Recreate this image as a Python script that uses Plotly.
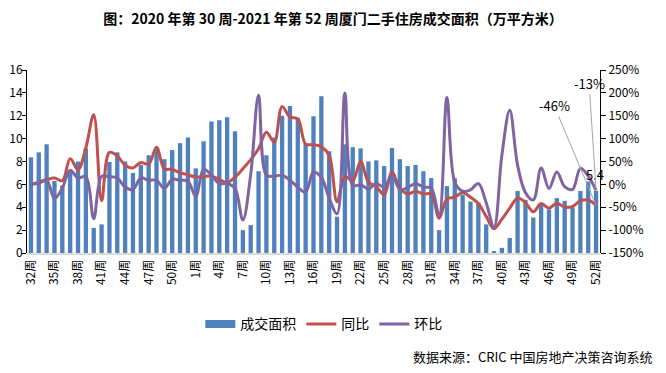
import plotly.graph_objects as go

# ---- data ----
weeks = [f"{w}周" for w in range(32, 53)] + [f"{w}周" for w in range(1, 53)]

area = [8.37, 8.8, 9.5, 6.3, 5.9, 7.2, 8.0, 9.15, 2.2, 2.5,
        7.96, 8.8, 8.0, 7.0, 7.7, 8.55, 9.1, 8.2, 9.0, 9.6,
        10.1, 7.4, 9.77, 11.5, 11.6, 11.86, 10.64, 2.0, 2.44, 7.15,
        8.55, 10.1, 12.0, 12.85, 11.8, 9.55, 11.95, 13.7, 8.9, 3.17,
        9.5, 9.25, 9.15, 8.0, 8.1, 7.6, 9.18, 8.2, 7.6, 7.7,
        7.15, 6.55, 2.0, 5.85, 6.54, 5.1, 4.5, 4.4, 2.5, 0.15,
        0.45, 1.32, 5.42, 4.65, 3.1, 4.2, 3.8, 4.8, 4.56, 4.0,
        5.42, 6.25, 5.44]

yoy = [0, 3, 10, 14, 8, 56, 32, 80, 152, -36,
       70, 62, 42, 36, 48, 44, 81, 34, 33, 25,
       21, 16, 17, 18, 11, 4, 16, 34, 54, 78,
       114, 92, 170, 147, 143, 88, 87, 82, 63, -38,
       17, 8, 50, 5, -5, -23, 27, -8, -21, -15,
       -21, -21, -74, -32, -28, -18, -28, -42, -70, -97,
       -76, -52, -30, -40, -60, -42, -52, -41, -50, -48,
       -36, -34, -46]

wow = [0, 5, 9, -31, -8, 31, 14, 17, -75, 17,
       17, 14, -6, -11, 14, 9, 9, -9, 11, 9,
       7, -26, 33, 20, 2, 2, -9, -78, 22, 195,
       20, 18, 20, 9, -6, -17, 27, 15, -30, -64,
       200, -2, -1, -10, 2, -6, 20, -11, -7, 2,
       -6, -8, -68, 190, 5, -15, -12, 2, -40, -94,
       64, 162, 42, -18, -34, 36, -9, 27, -5, -11,
       35, 18, -13]

left_ticks = [0, 2, 4, 6, 8, 10, 12, 14, 16]
right_ticks = [-150, -100, -50, 0, 50, 100, 150, 200, 250]

title = "<b>图：2020 年第 30 周-2021 年第 52 周厦门二手住房成交面积（万平方米）</b>"
source = "数据来源：CRIC 中国房地产决策咨询系统"

FONT = "Noto Sans CJK SC"
BLUE = "#4F81BD"
RED = "#C0504D"
PURPLE = "#8064A2"

x = list(range(len(weeks)))
tick_idx = x[::3]

fig = go.Figure()
fig.add_trace(go.Bar(x=x, y=area, name="成交面积", marker_color=BLUE,
                     marker_line_width=0, yaxis="y", showlegend=False))
# legend proxy (wide rectangle like the reference legend key)
fig.add_trace(go.Scatter(x=[None], y=[None], name="成交面积", mode="lines",
                         line=dict(color=BLUE, width=8), yaxis="y"))
fig.add_trace(go.Scatter(x=x, y=yoy, name="同比", mode="lines",
                         line=dict(color=RED, width=3, shape="spline", smoothing=1.0),
                         yaxis="y2"))
fig.add_trace(go.Scatter(x=x, y=wow, name="环比", mode="lines",
                         line=dict(color=PURPLE, width=3, shape="spline", smoothing=1.0),
                         yaxis="y2"))

last = x[-1]
fig.add_annotation(x=last, y=area[-1], xref="x", yref="y", text=f"{area[-1]:.1f}",
                   showarrow=False, yanchor="bottom", yshift=5, xshift=-1,
                   font=dict(size=13, color="black", family=FONT))
fig.add_annotation(x=last, y=yoy[-1], xref="x", yref="y2", text=f"{yoy[-1]}%",
                   showarrow=True, arrowhead=0, arrowwidth=1, arrowcolor="#A6A6A6",
                   ax=-42, ay=-100, standoff=0,
                   font=dict(size=13, color="black", family=FONT))
fig.add_annotation(x=last, y=wow[-1], xref="x", yref="y2", text=f"{wow[-1]}%",
                   showarrow=True, arrowhead=0, arrowwidth=1, arrowcolor="#A6A6A6",
                   ax=-7, ay=-107, standoff=0,
                   font=dict(size=13, color="black", family=FONT))

fig.add_annotation(x=1.096, y=-0.565, xref="paper", yref="paper", text=source,
                   showarrow=False, xanchor="right", yanchor="middle",
                   font=dict(size=13, color="black", family=FONT))

# The page body has an 8px default margin, so the figure is drawn 8px in and
# sized 658x365 to fill the 666x373 window.
fig.update_layout(
    width=658, height=365,
    margin=dict(l=19, r=66, t=62, b=120, autoexpand=False),
    paper_bgcolor="white", plot_bgcolor="white",
    font=dict(family=FONT, size=12, color="black"),
    title=dict(text=title, x=325 / 658, xref="container", xanchor="center",
               y=1 - 11 / 365, yanchor="middle",
               font=dict(size=14, color="black", family=FONT)),
    bargap=0.45,
    showlegend=True,
    legend=dict(orientation="h", x=0.518, xanchor="center", y=-0.39, yanchor="middle",
                font=dict(size=14, family=FONT, color="black"),
                itemwidth=30, traceorder="normal"),
    xaxis=dict(range=[-0.5, len(x) - 0.5], tickmode="array", tickvals=tick_idx,
               ticktext=[weeks[i] for i in tick_idx], tickangle=-90,
               showline=True, linecolor="#D9D9D9", linewidth=2, ticks="",
               showgrid=False, zeroline=False, tickfont=dict(size=12),
               automargin=False),
    yaxis=dict(range=[0, 16], tickvals=left_ticks, showline=True, linecolor="black",
               linewidth=1, ticks="outside", ticklen=4, tickcolor="black",
               ticklabelstandoff=-3,
               showgrid=False, zeroline=False, tickfont=dict(size=12),
               automargin=False),
    yaxis2=dict(range=[-150, 250], tickvals=right_ticks,
                ticktext=[f"{v}%" for v in right_ticks], overlaying="y", side="right",
                showline=True, linecolor="black", linewidth=1, ticks="outside",
                ticklen=5, tickcolor="black", showgrid=False, zeroline=False,
                tickfont=dict(size=12), automargin=False),
)

fig.write_html("out.html")
